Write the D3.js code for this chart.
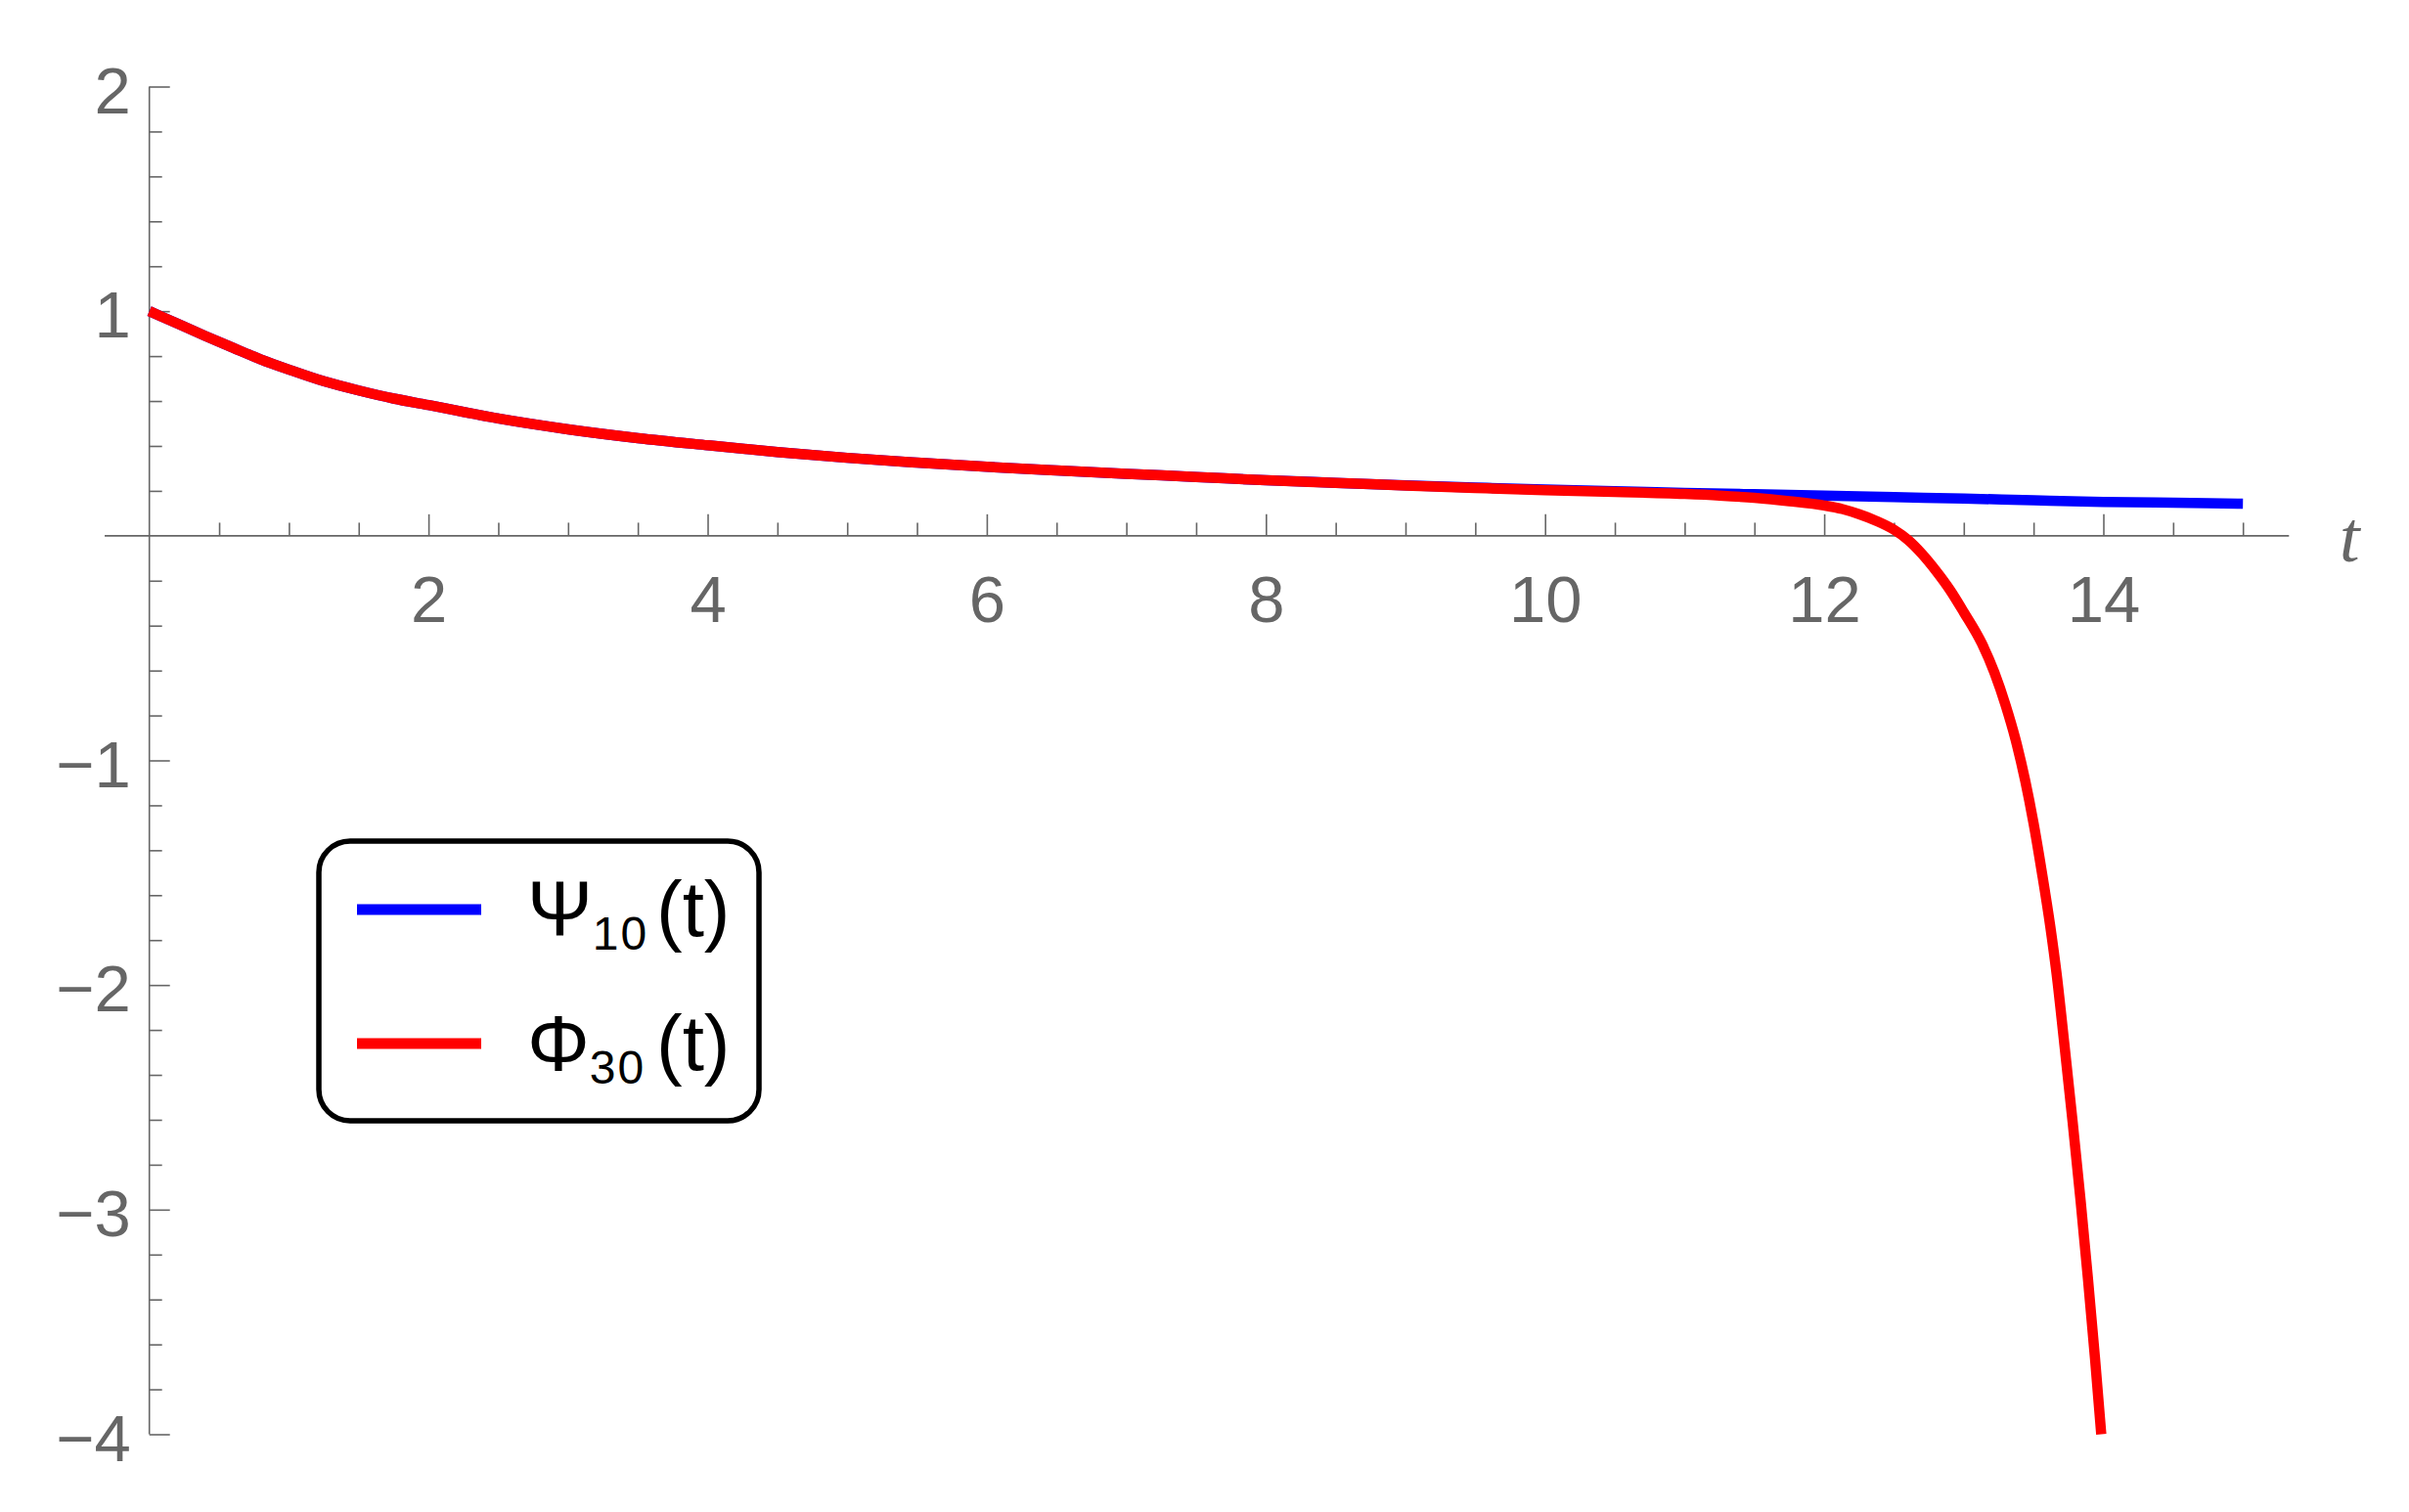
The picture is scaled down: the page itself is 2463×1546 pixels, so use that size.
<!DOCTYPE html>
<html>
<head>
<meta charset="utf-8">
<script src="https://cdn.jsdelivr.net/npm/d3@7"></script>
<style>
  body { margin: 0; background: #fff; }
  text { font-family: "Liberation Sans", Arial, sans-serif; }
</style>
</head>
<body>
<div id="chart"></div>
<script>
// Phi_30(t) - red curve
const tRed = [0, 0.2, 0.4, 0.6, 0.8, 1, 1.25, 1.5, 1.75, 2, 2.5, 3, 3.5, 4, 4.5, 5, 5.5, 6, 6.5, 7, 7.5, 8,
  8.5, 9, 9.5, 10, 10.5, 11, 11.25, 11.5, 11.75, 12, 12.13, 12.25, 12.375, 12.5, 12.6, 12.7, 12.8, 12.9,
  13, 13.13, 13.22, 13.3, 13.37, 13.44, 13.5, 13.56, 13.62, 13.665, 13.72, 13.78, 13.837, 13.89, 13.94, 13.985];
const phi30 = [1.0, 0.945, 0.89, 0.837, 0.785, 0.74, 0.688, 0.647, 0.611, 0.582, 0.522, 0.474, 0.435, 0.403,
  0.373, 0.347, 0.326, 0.307, 0.291, 0.276, 0.262, 0.247, 0.236, 0.224, 0.213, 0.203, 0.195, 0.186, 0.179,
  0.169, 0.154, 0.135, 0.119, 0.096, 0.066, 0.027, -0.018, -0.08, -0.155, -0.24, -0.34, -0.48, -0.61,
  -0.755, -0.905, -1.09, -1.28, -1.5, -1.74, -1.95, -2.26, -2.61, -2.96, -3.31, -3.66, -4.0];

// Psi_10(t) - blue curve
const tBlue = [0, 0.2, 0.4, 0.6, 0.8, 1, 1.25, 1.5, 1.75, 2, 2.5, 3, 3.5, 4, 4.5, 5, 5.5, 6, 6.5, 7, 7.5, 8,
  8.5, 9, 9.5, 10, 10.5, 11, 11.5, 12, 12.5, 13, 13.5, 14, 14.5, 15];
const psi10 = [1.0, 0.945, 0.89, 0.837, 0.785, 0.74, 0.688, 0.647, 0.611, 0.582, 0.522, 0.474, 0.435, 0.403,
  0.373, 0.347, 0.326, 0.307, 0.291, 0.276, 0.262, 0.247, 0.236, 0.225, 0.215, 0.206, 0.199, 0.191, 0.185,
  0.179, 0.172, 0.166, 0.158, 0.151, 0.147, 0.143];

const xTickLabels = [2, 4, 6, 8, 10, 12, 14];
const yTickLabels = [-4, -3, -2, -1, 1, 2];
const legendSymbols = ["\u03A8", "\u03A6"];
const legendSubs = ["10", "30"];
const legendColors = ["#0000ff", "#ff0000"];

const W = 2463, H = 1546;
const axisColor = "#666666";

const svg = d3.select("#chart").append("svg")
  .attr("width", W).attr("height", H)
  .style("background", "#fff");

const x = d3.scaleLinear().domain([0, 15]).range([152.7, 2293.2]);
const y = d3.scaleLinear().domain([-4, 2]).range([1466.5, 88.5]);

// x axis line
svg.append("line")
  .attr("x1", x(-0.32)).attr("x2", x(15.33))
  .attr("y1", y(0)).attr("y2", y(0))
  .attr("stroke", axisColor).attr("stroke-width", 1.6);

// y axis line
svg.append("line")
  .attr("x1", x(0)).attr("x2", x(0))
  .attr("y1", y(2)).attr("y2", y(-4))
  .attr("stroke", axisColor).attr("stroke-width", 1.6);

function styleAxis(g) {
  g.select(".domain").remove();
  g.selectAll(".tick line").attr("stroke", axisColor).attr("stroke-width", 1.6);
  g.selectAll(".tick text")
    .attr("fill", axisColor)
    .style("font-family", "'Liberation Sans', Arial, sans-serif")
    .style("font-size", "67px");
}

// x minor ticks every 0.5
const xMinor = d3.range(0.5, 15.01, 0.5).filter(v => v % 2 !== 0);
svg.append("g")
  .attr("transform", `translate(0,${y(0)})`)
  .call(d3.axisBottom(x).tickValues(xMinor).tickSizeInner(-13.4).tickSizeOuter(0).tickFormat(""))
  .call(styleAxis);

svg.append("g")
  .attr("transform", `translate(0,${y(0)})`)
  .call(d3.axisBottom(x).tickValues(xTickLabels).tickSizeInner(-22).tickSizeOuter(0).tickPadding(40.5)
    .tickFormat(d3.format("d")))
  .call(styleAxis);

// y minor ticks every 0.2
const yMinor = d3.range(-4, 2.001, 0.2).map(v => +v.toFixed(1)).filter(v => Math.abs(v - Math.round(v)) > 1e-6);
svg.append("g")
  .attr("transform", `translate(${x(0)},0)`)
  .call(d3.axisLeft(y).tickValues(yMinor).tickSizeInner(-13).tickSizeOuter(0).tickFormat(""))
  .call(styleAxis);

svg.append("g")
  .attr("transform", `translate(${x(0)},0)`)
  .call(d3.axisLeft(y).tickValues(yTickLabels).tickSizeInner(-21).tickSizeOuter(0).tickPadding(19)
    .tickFormat(d => d < 0 ? "\u2212" + Math.abs(d) : String(d)))
  .call(styleAxis)
  .call(g => g.selectAll(".tick text").attr("dy", "0.4em"));

// axis label
svg.append("text")
  .attr("x", 2392).attr("y", 574)
  .attr("fill", axisColor)
  .style("font-family", "'Liberation Serif', 'Times New Roman', serif")
  .style("font-style", "italic")
  .style("font-size", "74px")
  .text("t");

// curves
const line = d3.line()
  .x(d => x(d[0]))
  .y(d => y(d[1]))
  .curve(d3.curveMonotoneX);

svg.append("path")
  .datum(tBlue.map((t, i) => [t, psi10[i]]))
  .attr("d", line)
  .attr("fill", "none")
  .attr("stroke", legendColors[0])
  .attr("stroke-width", 10.5)
  .attr("stroke-linecap", "butt");

svg.append("path")
  .datum(tRed.map((t, i) => [t, phi30[i]]))
  .attr("d", line)
  .attr("fill", "none")
  .attr("stroke", legendColors[1])
  .attr("stroke-width", 10.5)
  .attr("stroke-linecap", "butt");

// legend
const legend = svg.append("g");
legend.append("rect")
  .attr("x", 326).attr("y", 860)
  .attr("width", 450).attr("height", 286)
  .attr("rx", 32).attr("ry", 32)
  .attr("fill", "#fff")
  .attr("stroke", "#000")
  .attr("stroke-width", 5.5);

const rowY = [930, 1067];
legendSymbols.forEach((s, i) => {
  const cy = rowY[i];
  legend.append("line")
    .attr("x1", 365).attr("x2", 492)
    .attr("y1", cy).attr("y2", cy)
    .attr("stroke", legendColors[i])
    .attr("stroke-width", 11);
  const base = cy + 27;
  const txt = legend.append("text")
    .attr("y", base)
    .attr("fill", "#000")
    .style("font-size", "80px");
  txt.append("tspan").attr("x", 539).text(s);
  txt.append("tspan").attr("dy", 13.7)
    .style("font-size", "48px").style("letter-spacing", "2px")
    .text(legendSubs[i]);
  txt.append("tspan").attr("x", 671).attr("dy", -13.7).text("(t)");
});
</script>
</body>
</html>
